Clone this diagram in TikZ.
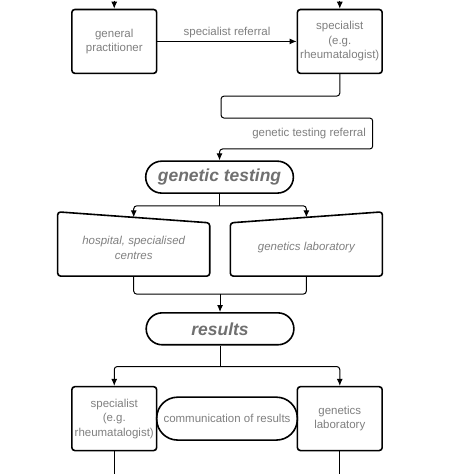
\documentclass[tikz,border=0pt]{standalone}
\usepackage{fontspec}
\setmainfont{Liberation Sans}
\usetikzlibrary{arrows.meta, positioning, calc}
\definecolor{labelgray}{RGB}{128,128,128}
\definecolor{headgray}{RGB}{112,112,112}
\tikzset{%
	box/.style={draw, rectangle, line width=1.6pt, rounded corners=3pt, minimum width=85pt,%
		minimum height=64pt, inner sep=0pt, align=center, text=labelgray,%
		font=\fontsize{11.5}{14.5}\selectfont},
	slanted/.style={rectangle, minimum width=152pt, minimum height=56pt, inner sep=0pt,%
		align=center, text=labelgray, font=\fontsize{11.5}{14.5}\selectfont\itshape},
	outline/.style={line width=1.6pt, rounded corners=3pt},
	pill/.style={draw, rectangle, line width=1.6pt, rounded corners=16pt, minimum width=148pt,%
		minimum height=32pt, inner sep=0pt, text=headgray,%
		font=\fontsize{17.5}{20}\selectfont\bfseries\itshape},
	talk/.style={draw, rectangle, line width=1.6pt, rounded corners=21pt, minimum width=141pt,%
		minimum height=43pt, inner sep=0pt, text=labelgray, font=\fontsize{11.5}{14.5}\selectfont},
	connector/.style={line width=1pt, rounded corners=3pt},
	sel/.style={connector, -{Latex[length=7pt,width=6pt]}},
	edgelabel/.style={text=labelgray, font=\fontsize{11.5}{14.5}\selectfont}
}

\begin{document}
\begin{tikzpicture}[x=1pt, y=-1pt]
	\fill[white] (0,0) rectangle (474,474);

	\node[box]     (gp)      at (114.5,41)  {general\\practitioner};
	\node[box]     (spec1)   at (340.5,41)  {specialist\\(e.g.\\rheumatalogist)};
	\node[pill]    (gtest)   at (220,177)   {genetic testing};
	\node[slanted] (hosp)    at (134,248)   {hospital, specialised\\centres};
	\node[slanted] (glab1)   at (307,248)   {genetics laboratory};
	\node[pill]    (results) at (220.5,329) {results};
	\node[box]     (spec2)   at (114.5,419) {specialist\\(e.g.\\rheumatalogist)};
	\node[box]     (glab2)   at (340.5,419) {genetics\\laboratory};
	\node[talk]    (comm)    at ($(spec2.east)!0.5!(glab2.west)$) {communication of results};

	% slanted tops of the two testing places
	\draw[outline] ($(hosp.north west)+(0,-8)$) -- ($(hosp.north east)+(0,3)$)
		-- (hosp.south east) -- (hosp.south west) -- cycle;
	\draw[outline] ($(glab1.north west)+(0,3)$) -- ($(glab1.north east)+(0,-8)$)
		-- (glab1.south east) -- (glab1.south west) -- cycle;

	\coordinate (gpin)    at (114.5,0);
	\coordinate (spec1in) at (340.5,0);
	\coordinate (hospin)  at ($(hosp.north)+(0,-2.5)$);
	\coordinate (glabin)  at ($(glab1.north)+(0,-2.5)$);
	\coordinate[below=12pt of gtest.south]   (split);
	\coordinate (merge)   at ($(hosp.south)!0.5!(glab1.south)+(0,18)$);
	\coordinate[below=21pt of results.south] (fork);
	\coordinate (spec2out) at (114.5,474);
	\coordinate (glab2out) at (340.5,474);

	\draw[sel] (gpin) -- (gp);
	\draw[sel] (spec1in) -- (spec1);
	\draw[sel] (gp) to node[edgelabel, above]{specialist referral} (spec1);
	\draw[sel] (spec1.south) -- ++(0,22) -| ++(-119,22) -- ++(152,0)
		-- node[edgelabel, left, xshift=-3pt]{genetic testing referral} ++(0,31) -| (gtest.north);

	\draw[connector] (gtest.south) -- (split);
	\draw[sel] (split) -| (hospin);
	\draw[sel] (split) -| (glabin);

	\draw[connector] (hosp.south) |- (merge) -| (glab1.south);
	\draw[sel] (merge) -- (results);

	\draw[connector] (results.south) -- (fork);
	\draw[sel] (fork) -| (spec2);
	\draw[sel] (fork) -| (glab2);

	\draw[connector] (spec2.south) -- (spec2out);
	\draw[connector] (glab2.south) -- (glab2out);
\end{tikzpicture}
\end{document}
